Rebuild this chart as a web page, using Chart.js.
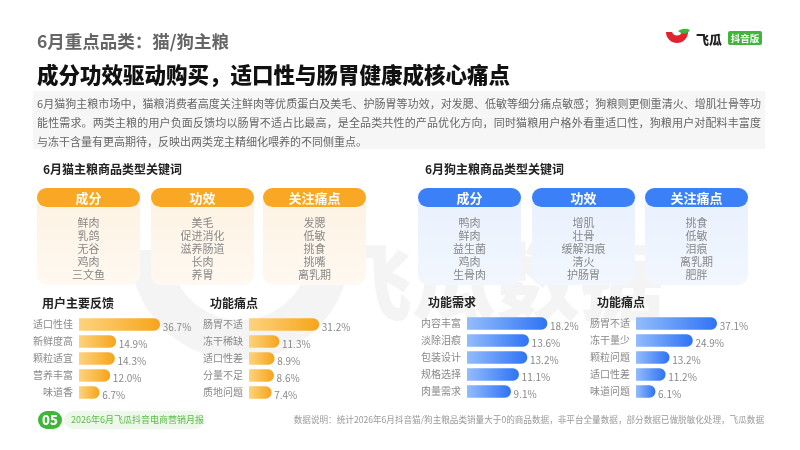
<!DOCTYPE html>
<html>
<head>
<meta charset="utf-8">
<script src="https://cdn.jsdelivr.net/npm/chart.js@4.4.1/dist/chart.umd.min.js"></script>
<style>
  * { margin: 0; padding: 0; box-sizing: border-box; }
  body { width: 800px; height: 450px; background: #fff; position: relative; overflow: hidden;
    font-family: "Noto Sans CJK SC", "Noto Sans", sans-serif; }
  .abs { position: absolute; }
  .kicker { left: 37px; top: 28px; font-size: 17.5px; font-weight: 700; color: #666; }
  .title { left: 37px; top: 58px; font-size: 21.5px; font-weight: 900; color: #111; }
  .desc { left: 33px; top: 91px; width: 732px; height: 58px; background: rgba(245,245,245,0.85); padding: 3px 4px 0 4px;
    font-size: 11px; line-height: 19px; color: #666; }
  .desc div { white-space: nowrap; }
  .desc .j { text-align: justify; text-align-last: justify; }
  .sec { font-size: 12px; font-weight: 700; color: #222; }
  .card { width: 103px; height: 97px; border-radius: 10px; }
  .card .hd { height: 19px; border-radius: 10px; color: #fff; font-weight: 700; font-size: 13px; text-align: center; line-height: 19px; }
  .card .bd { text-align: center; font-size: 11px; line-height: 13px; color: #888; padding-top: 9px; }
  .cat .hd { background: #f9a825; }
  .cat { background: linear-gradient(rgba(253,241,223,0.92), rgba(254,248,240,0.92)); }
  .dog .hd { background: #3b80f6; }
  .dog { background: linear-gradient(rgba(230,239,254,0.92), rgba(241,246,254,0.92)); }
  .sub { font-size: 12px; font-weight: 700; color: #222; }
  .foot-num { left: 38px; top: 411px; width: 24px; height: 18px; border-radius: 9px; background: #3fb53a; color: #fff;
    font-weight: 900; font-size: 13px; text-align: center; line-height: 18px; }
  .foot-pill { left: 64px; top: 411px; width: 140px; height: 18px; border-radius: 9px; background: #eef8ea; color: #5cb84c;
    font-size: 9px; line-height: 18px; padding-left: 7px; white-space: nowrap; }
  .note { right: 36px; top: 413px; font-size: 8.6px; color: #999; white-space: nowrap; }
  canvas { position: absolute; }
</style>
</head>
<body>
<!-- 背景水印 -->
<canvas id="wm" style="left:0;top:0" width="800" height="450"></canvas>

<div class="abs kicker">6月重点品类：猫/狗主粮</div>
<div class="abs title">成分功效驱动购买，适口性与肠胃健康成核心痛点</div>

<svg class="abs" style="left:664px;top:28px" width="30" height="24">
  <path d="M2 4 A 11 11 0 0 0 24 4 L18 4 A 5.5 6 0 0 1 8 4 Z" fill="#e0242e"/>
  <path d="M14 3 Q 20 -1 26 2 Q 21 9 14 3 Z" fill="#3fb53a"/>
</svg>
<div class="abs" style="left:696px;top:29px;font-size:13px;font-weight:900;color:#222;">飞瓜</div>
<div class="abs" style="left:728px;top:31px;width:34px;height:14px;background:#3fb53a;color:#fff;font-size:9.5px;font-weight:700;line-height:14px;text-align:center;border-radius:2px;">抖音版</div>

<div class="abs desc">
  <div class="j">6月猫狗主粮市场中，猫粮消费者高度关注鲜肉等优质蛋白及美毛、护肠胃等功效，对发腮、低敏等细分痛点敏感；狗粮则更侧重清火、增肌壮骨等功</div>
  <div class="j">能性需求。两类主粮的用户负面反馈均以肠胃不适占比最高，是全品类共性的产品优化方向，同时猫粮用户格外看重适口性，狗粮用户对配料丰富度</div>
  <div>与冻干含量有更高期待，反映出两类宠主精细化喂养的不同侧重点。</div>
</div>

<div class="abs sec" style="left:43px;top:160px">6月猫主粮商品类型关键词</div>
<div class="abs sec" style="left:425px;top:160px">6月狗主粮商品类型关键词</div>

<div id="cards"></div>

<div class="abs sub" style="left:42px;top:294px">用户主要反馈</div>
<div class="abs sub" style="left:210px;top:294px">功能痛点</div>
<div class="abs sub" style="left:428px;top:293px">功能需求</div>
<div class="abs sub" style="left:597px;top:293px">功能痛点</div>

<canvas id="c1" style="left:30px;top:316px" width="165" height="85"></canvas>
<canvas id="c2" style="left:200px;top:316px" width="165" height="85"></canvas>
<canvas id="c3" style="left:418px;top:315px" width="165" height="85"></canvas>
<canvas id="c4" style="left:587px;top:315px" width="165" height="85"></canvas>

<div class="abs foot-num">05</div>
<div class="abs foot-pill">2026年6月飞瓜抖音电商营销月报</div>
<div class="abs note">数据说明：统计2026年6月抖音猫/狗主粮品类销量大于0的商品数据，非平台全量数据，部分数据已做脱敏化处理，飞瓜数据</div>

<script>
// ----- 关键词 -----
const keyHeads = ["成分", "功效", "关注痛点"];
const catIngredients = ["鲜肉", "乳鸽", "无谷", "鸡肉", "三文鱼"];
const catEffects = ["美毛", "促进消化", "滋养肠道", "长肉", "养胃"];
const catPains = ["发腮", "低敏", "挑食", "挑嘴", "离乳期"];
const dogIngredients = ["鸭肉", "鲜肉", "益生菌", "鸡肉", "生骨肉"];
const dogEffects = ["增肌", "壮骨", "缓解泪痕", "清火", "护肠胃"];
const dogPains = ["挑食", "低敏", "泪痕", "离乳期", "肥胖"];

// ----- 柱状图数据 -----
const catFeedbackLabels = ["适口性佳", "新鲜度高", "颗粒适宜", "营养丰富", "味道香"];
const catFeedbackValues = [36.7, 14.9, 14.3, 12.0, 6.7];
const catPainLabels = ["肠胃不适", "冻干稀缺", "适口性差", "分量不足", "质地问题"];
const catPainValues = [31.2, 11.3, 8.9, 8.6, 7.4];
const dogNeedLabels = ["内容丰富", "淡除泪痕", "包装设计", "规格选择", "肉量需求"];
const dogNeedValues = [18.2, 13.6, 13.2, 11.1, 9.1];
const dogPainLabels = ["肠胃不适", "冻干量少", "颗粒问题", "适口性差", "味道问题"];
const dogPainValues = [37.1, 24.9, 13.2, 11.2, 6.1];

// 水印（背景图案）
function drawWatermark() {
  const ctx = document.getElementById("wm").getContext("2d");
  ctx.strokeStyle = "#f4f4f4";
  ctx.lineWidth = 40;
  ctx.beginPath();
  ctx.arc(240, 250, 90, 0, Math.PI);
  ctx.stroke();
  ctx.fillStyle = "#f4f4f4";
  ctx.font = "900 84px 'Noto Sans CJK SC', sans-serif";
  ctx.textBaseline = "top";
  ctx.fillText("飞瓜数据", 328, 240);
}

function buildCards() {
  const wrap = document.getElementById("cards");
  const groups = [
    { cls: "cat", xs: [37, 151, 263], lists: [catIngredients, catEffects, catPains] },
    { cls: "dog", xs: [418, 532, 645], lists: [dogIngredients, dogEffects, dogPains] }
  ];
  groups.forEach(g => {
    g.lists.forEach((items, i) => {
      wrap.innerHTML += `
        <div class="abs card ${g.cls}" style="left:${g.xs[i]}px;top:188px">
          <div class="hd">${keyHeads[i]}</div>
          <div class="bd">${items.join("<br>")}</div>
        </div>`;
    });
  });
}

const valueLabels = {
  id: "valueLabels",
  afterDatasetsDraw(chart) {
    const ctx = chart.ctx;
    const meta = chart.getDatasetMeta(0);
    ctx.save();
    ctx.font = "10px 'Noto Sans CJK SC', sans-serif";
    ctx.fillStyle = "#888";
    ctx.textBaseline = "middle";
    meta.data.forEach((bar, i) => {
      const v = chart.data.datasets[0].data[i];
      ctx.fillText(v.toFixed(1) + "%", bar.x + 3, bar.y + 3);
    });
    ctx.restore();
  }
};

function makeBar(id, labels, values, min, max, light, dark) {
  new Chart(document.getElementById(id), {
    type: "bar",
    data: {
      labels,
      datasets: [{
        data: values,
        base: min,
        barThickness: 12,
        borderRadius: 6,
        backgroundColor: (c) => {
          const chart = c.chart;
          if (!chart.chartArea || c.raw === undefined) return dark;
          const x0 = chart.scales.x.getPixelForValue(min);
          const x1 = chart.scales.x.getPixelForValue(c.raw);
          const g = chart.ctx.createLinearGradient(x0, 0, x1, 0);
          g.addColorStop(0, light);
          g.addColorStop(1, dark);
          return g;
        }
      }]
    },
    options: {
      indexAxis: "y",
      responsive: false,
      animation: false,
      layout: { padding: 0 },
      plugins: { legend: { display: false }, tooltip: { enabled: false } },
      scales: {
        x: { display: false, min, max },
        y: {
          grid: { display: false, drawTicks: false },
          border: { display: false },
          ticks: { color: "#888", font: { size: 10, family: "'Noto Sans CJK SC', sans-serif" }, padding: 6 },
          afterFit: (s) => { s.width = 49; s.paddingTop = 0; s.paddingBottom = 0; }
        }
      }
    },
    plugins: [valueLabels]
  });
}

drawWatermark();
buildCards();
makeBar("c1", catFeedbackLabels, catFeedbackValues, -3.3, 54.2, "#fdd37e", "#f6a51b");
makeBar("c2", catPainLabels, catPainValues, -3.7, 54.3, "#fdd37e", "#f6a51b");
makeBar("c3", dogNeedLabels, dogNeedValues, -1.8, 27.2, "#93bcfb", "#2f74f5");
makeBar("c4", dogPainLabels, dogPainValues, -3.5, 54.9, "#93bcfb", "#2f74f5");
</script>
</body>
</html>
